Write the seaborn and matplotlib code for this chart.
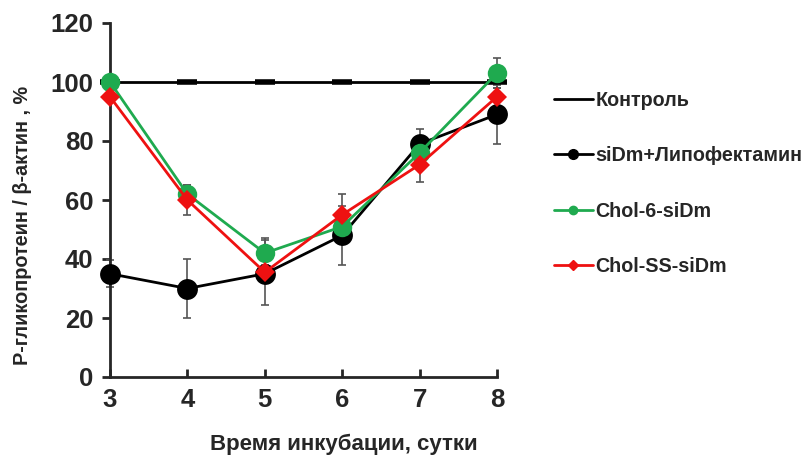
import numpy as np
import pandas as pd
import matplotlib
matplotlib.use('Agg')
import matplotlib.pyplot as plt
import seaborn as sns
from matplotlib.lines import Line2D

# Data
days = [3, 4, 5, 6, 7, 8]
control = [100, 100, 100, 100, 100, 100]
lipo = [35, 30, 35, 48, 79, 89]
lipo_err = [4.5, 10, 3, 10, 5, 10]
chol6 = [100, 62, 42, 51, 76, 103]
chol6_err = [0, 3, 5, 3, 3, 5]
cholss = [95, 60, 35.5, 55, 72, 95]
cholss_err = [0, 5, 11, 7, 6, 3]

series_names = ['Контроль', 'siDm+Липофектамин', 'Chol-6-siDm', 'Chol-SS-siDm']
colors = {'Контроль': 'black', 'siDm+Липофектамин': 'black',
          'Chol-6-siDm': '#1faa4f', 'Chol-SS-siDm': '#ee1111'}

df = pd.DataFrame({
    'day': days * 4,
    'value': control + lipo + chol6 + cholss,
    'series': np.repeat(series_names, len(days)),
})

sns.set_style('ticks')
plt.rcParams['font.family'] = ['Liberation Sans', 'DejaVu Sans']
plt.rcParams['font.weight'] = 'bold'

fig = plt.figure(figsize=(8.11, 4.55), dpi=100)
ax = fig.add_axes([110 / 811, 1 - 377 / 455, 387 / 811, 354 / 455])

# error bars first, behind markers
for vals, errs in [(lipo, lipo_err), (chol6, chol6_err), (cholss, cholss_err)]:
    ax.errorbar(days, vals, yerr=errs, fmt='none', ecolor='#555555',
                elinewidth=1.2, capsize=3, capthick=1.2, zorder=1, clip_on=False)

# control line with small dash markers
ctrl = df[df['series'] == 'Контроль']
sns.lineplot(data=ctrl, x='day', y='value', color='black', lw=2, ax=ax,
             marker='_', markersize=14, markeredgewidth=4,
             markeredgecolor='black', zorder=2, clip_on=False, legend=False)

styles = {'siDm+Липофектамин': ('o', 15),
          'Chol-6-siDm': ('o', 14),
          'Chol-SS-siDm': ('D', 10)}
z = 3
for name in series_names[1:]:
    sub = df[df['series'] == name]
    mk, ms = styles[name]
    sns.lineplot(data=sub, x='day', y='value', color=colors[name], lw=2, ax=ax,
                 marker=mk, markersize=ms, markeredgewidth=0, zorder=z,
                 clip_on=False, legend=False)
    z += 1

ax.set_xlim(3, 8)
ax.set_ylim(0, 120)
ax.set_xticks(days)
ax.set_yticks(range(0, 121, 20))
ax.tick_params(axis='y', direction='out', length=6, width=2, labelsize=18.5, pad=6)
ax.tick_params(axis='x', direction='in', length=6, width=2, labelsize=18.5, pad=8)
for lab in ax.get_xticklabels() + ax.get_yticklabels():
    lab.set_fontweight('bold')
ax.spines['left'].set_linewidth(2)
ax.spines['bottom'].set_linewidth(2)
sns.despine(ax=ax)

ax.set_xlabel('Время инкубации, сутки', fontsize=16, fontweight='bold')
ax.set_ylabel('P-гликопротеин / β-актин , %', fontsize=14.3, fontweight='bold')
ax.xaxis.set_label_coords((344 - 110) / 387, -(434 - 377) / 354)
ax.yaxis.set_label_coords(-(110 - 32) / 387, (377 - 225) / 354)

handles = [
    Line2D([], [], color='black', lw=2),
    Line2D([], [], color='black', lw=2, marker='o', markersize=7),
    Line2D([], [], color=colors['Chol-6-siDm'], lw=2, marker='o', markersize=6),
    Line2D([], [], color=colors['Chol-SS-siDm'], lw=2, marker='D', markersize=5),
]
leg = fig.legend(handles, series_names, loc='upper left',
                 bbox_to_anchor=(538 / 811, 1 - 75 / 455), frameon=False,
                 handlelength=2.0, handletextpad=0.1, labelspacing=1.85,
                 borderpad=0.3, prop={'size': 14.2, 'weight': 'bold'})

fig.savefig('out.png', dpi=100)
